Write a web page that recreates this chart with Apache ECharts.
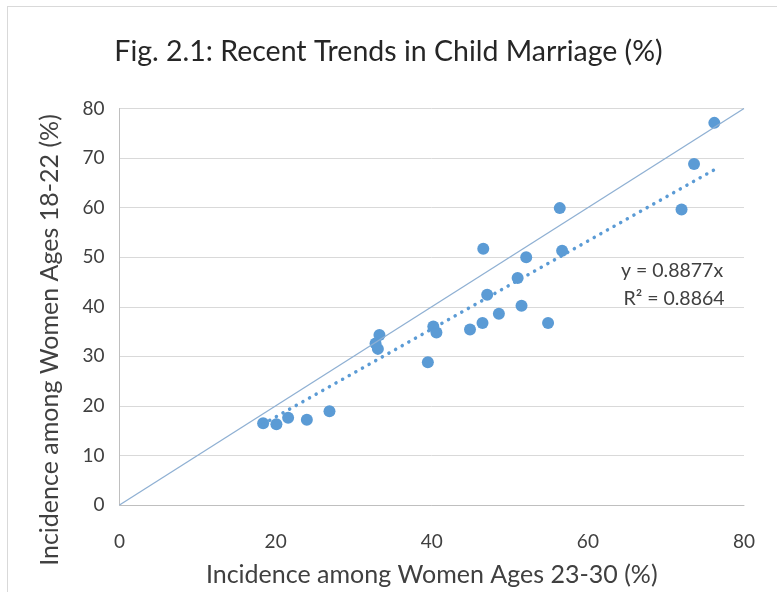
<!DOCTYPE html>
<html>
<head>
<meta charset="utf-8">
<script src="https://cdn.jsdelivr.net/npm/echarts@6/dist/echarts.min.js"></script>
<style>
  html, body { margin: 0; padding: 0; background: #ffffff; }
  #frame { position: absolute; left: 7px; top: 6px; right: -2px; bottom: -2px; border-left: 1px solid #d9d9d9; border-top: 1px solid #d9d9d9; }
  #chart { position: absolute; left: 0; top: 0; width: 777px; height: 592px; }
</style>
</head>
<body>
<div id="frame"></div>
<div id="chart"></div>
<script>
// Incidence among women ages 23-30 (%) — x values
const xValues = [18.4, 20.1, 21.6, 24.0, 26.9, 33.3, 32.8, 33.1, 39.5, 40.2, 40.6, 44.9, 46.5, 46.6, 47.1, 48.6, 51.0, 51.5, 52.1, 54.9, 56.4, 56.7, 72.0, 73.6, 76.2];
// Incidence among women ages 18-22 (%) — y values
const yValues = [16.5, 16.3, 17.6, 17.2, 18.9, 34.3, 32.6, 31.5, 28.8, 36.0, 34.8, 35.4, 36.7, 51.7, 42.4, 38.6, 45.8, 40.2, 50.0, 36.7, 59.9, 51.3, 59.6, 68.8, 77.1];
// Axis ticks
const xTicks = [0, 20, 40, 60, 80];
const yTicks = [0, 10, 20, 30, 40, 50, 60, 70, 80];
// Trendline (through origin) as stated on the chart
const trendSlope = 0.8877;
const trendR2 = 0.8864;
const titleText = 'Fig. 2.1: Recent Trends in Child Marriage (%)';
const xTitle = 'Incidence among Women Ages 23-30 (%)';
const yTitle = 'Incidence among Women Ages 18-22 (%)';

const points = xValues.map((x, i) => [x, yValues[i]]);
const xMin = Math.min(...xValues), xMax = Math.max(...xValues);
const trendData = [[xMin, trendSlope * xMin], [xMax, trendSlope * xMax]];
const axMin = xTicks[0], axMax = xTicks[xTicks.length - 1];
const diagData = [[axMin, axMin], [axMax, axMax]];

const FONT = 'Lato, "Open Sans", sans-serif';
const chart = echarts.init(document.getElementById('chart'), null, { renderer: 'canvas' });
chart.setOption({
  backgroundColor: 'transparent',
  animation: false,
  title: {
    text: titleText,
    left: 'center',
    top: 32,
    textStyle: { fontFamily: FONT, fontSize: 28.5, fontWeight: 'normal', color: '#262626' }
  },
  grid: { left: 119.5, right: 33, top: 108.5, bottom: 79.5, containLabel: false },
  xAxis: {
    type: 'value',
    min: axMin, max: axMax, interval: xTicks[1] - xTicks[0],
    name: xTitle,
    nameLocation: 'middle',
    nameGap: 57,
    nameTextStyle: { fontFamily: FONT, fontSize: 25, color: '#404040' },
    axisLine: { show: true, lineStyle: { color: '#bfbfbf', width: 1 } },
    axisTick: { show: false },
    splitLine: { show: false },
    axisLabel: { fontFamily: FONT, fontSize: 19, color: '#404040', margin: 27 }
  },
  yAxis: {
    type: 'value',
    min: yTicks[0], max: yTicks[yTicks.length - 1], interval: yTicks[1] - yTicks[0],
    axisLine: { show: true, lineStyle: { color: '#bfbfbf', width: 1 } },
    axisTick: { show: false },
    splitLine: { show: true, lineStyle: { color: '#d9d9d9', width: 1 } },
    axisLabel: { fontFamily: FONT, fontSize: 19, color: '#404040', margin: 15 }
  },
  graphic: [
    {
      type: 'text', x: 50, y: 340, rotation: Math.PI / 2,
      style: { text: yTitle, align: 'center', verticalAlign: 'middle', fontFamily: FONT, fontSize: 25, fill: '#404040' }
    },
    {
      type: 'text', x: 672, y: 271,
      style: { text: 'y = ' + trendSlope + 'x', align: 'center', verticalAlign: 'middle', fontFamily: FONT, fontSize: 19.5, fill: '#404040' }
    },
    {
      type: 'text', x: 674, y: 299,
      style: { text: 'R\u00B2 = ' + trendR2, align: 'center', verticalAlign: 'middle', fontFamily: FONT, fontSize: 19.5, fill: '#404040' }
    }
  ],
  series: [
    {
      type: 'line', data: diagData, symbol: 'none', silent: true,
      lineStyle: { color: '#8fb0d3', width: 1.3 }
    },
    {
      type: 'line', data: trendData, symbol: 'none', silent: true,
      lineStyle: { color: '#5b9bd5', width: 3.5, type: [0.1, 7.5], cap: 'round' }
    },
    {
      type: 'scatter', data: points, symbol: 'circle', symbolSize: 12,
      itemStyle: { color: '#5b9bd5', opacity: 1 }
    }
  ]
});
</script>
</body>
</html>
